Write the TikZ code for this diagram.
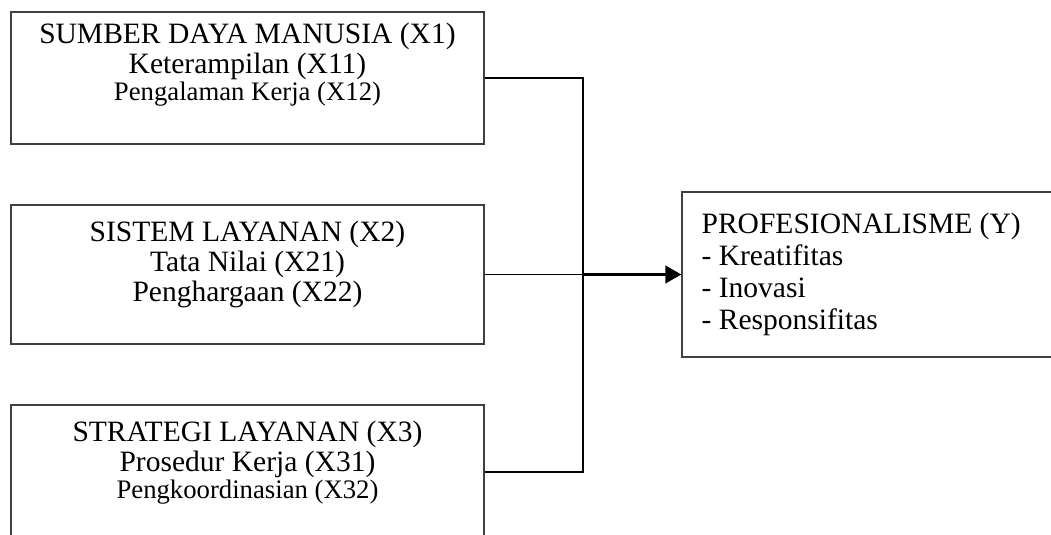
\documentclass[tikz,border=0pt]{standalone}
\usepackage{fontspec}
\setmainfont{Liberation Serif}
\usetikzlibrary{arrows.meta,positioning}
\begin{document}
\begin{tikzpicture}[>={Triangle[length=0.4cm,width=0.44cm]},x=0.025cm,y=-0.025cm,
	varbox/.style={draw=black!75,line width=0.9pt,inner sep=0pt,minimum width=11.825cm},
	vartext/.style={inner sep=0pt,align=center,font=\fontsize{21}{21.3}\selectfont},
	link/.style={line width=1.8pt}]
	\def\small#1{{\fontsize{19}{19}\selectfont #1}}
	\useasboundingbox (0,0) rectangle (1051,534);
	% variabel bebas
	\node[varbox,minimum height=3.3cm] (x1) at (247.5,78) {};
	\node[varbox,minimum height=3.475cm] (x2) at (247.5,274.5) {};
	\node[varbox,minimum height=3.35cm] (x3) at (247.5,472) {};
	\node[vartext,below=0.275cm of x1.north] (x1t) {SUMBER DAYA MANUSIA (X1)\\ Keterampilan (X11)\\[-1.8pt] \small{Pengalaman Kerja (X12)}};
	\node[vartext,below=0.4cm of x2.north] (x2t) {SISTEM LAYANAN (X2)\\ Tata Nilai (X21)\\ Penghargaan (X22)};
	\node[vartext,below=0.4cm of x3.north] (x3t) {STRATEGI LAYANAN (X3)\\ Prosedur Kerja (X31)\\[-1.8pt] \small{Pengkoordinasian (X32)}};
	% variabel terikat
	\node[varbox,minimum width=9.45cm,minimum height=4.125cm] (y) at (871,274.5) {};
	\node[vartext,align=left,font=\fontsize{21}{22.8}\selectfont,below right=0.525cm and 0.5cm of y.north west] (yt) {PROFESIONALISME (Y)\\ - Kreatifitas\\ - Inovasi\\ - Responsifitas};
	\coordinate (jn) at (583,274.5);
	\draw[link] (x1.east) -| (jn) |- (x3.east);
	\draw[line width=1.2pt] (x2.east) -- (jn);
	\draw[link,->] (jn) -- (y.west);
\end{tikzpicture}
\end{document}
